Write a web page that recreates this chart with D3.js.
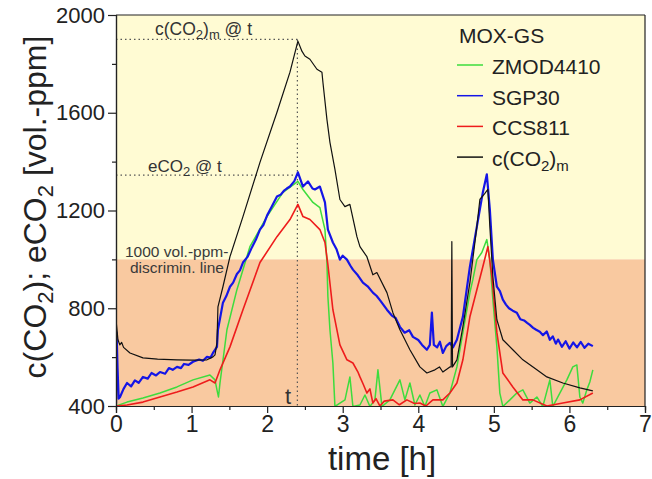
<!DOCTYPE html>
<html><head><meta charset="utf-8">
<script src="https://cdn.jsdelivr.net/npm/d3@7"></script>
<style>body{margin:0;background:#fff;} text{font-family:"Liberation Sans",Arial,sans-serif;}</style>
</head><body><svg id="c" width="652" height="479"></svg>
<script>
const xTicks=[0,1,2,3,4,5,6,7];
const xMinor=[0.5,1.5,2.5,3.5,4.5,5.5,6.5];
const yTicks=[400,800,1200,1600,2000];
const yMinor=[600,1000,1400,1800];
const threshold=1000;
const tMark=2.4, cmAtT=1900, eAtT=1345;

// c(CO2)m (black)
const tM=[0,0.026,0.05,0.075,0.1,0.185,0.357,0.55,0.807,1.0,1.204,1.283,1.31,1.336,1.349,1.415,1.508,1.68,1.905,2.13,2.302,2.407,2.46,2.5,2.566,2.659,2.725,2.738,2.791,2.831,2.897,2.963,3.029,3.095,3.188,3.228,3.32,3.399,3.452,3.585,3.664,3.757,3.889,4.021,4.114,4.22,4.28,4.325,4.418,4.435,4.444,4.453,4.511,4.59,4.683,4.775,4.815,4.881,4.921,4.947,4.987,5.04,5.119,5.251,5.384,5.569,5.701,5.913,6.138,6.31];
const vM=[753,671,650,660,640,617,597,592,589,588,589,601,609,658,806,888,1011,1175,1397,1602,1766,1893,1852,1832,1819,1778,1766,1725,1573,1479,1368,1245,1216,1225,1093,1052,1011,937,946,864,782,712,630,560,535,548,560,539,560,560,1073,560,589,724,905,1134,1245,1270,1286,1134,929,753,671,630,589,548,519,494,474,462];

// SGP30 (blue)
const tS=[0,0.008,0.02,0.035,0.053,0.1,0.146,0.2,0.25,0.3,0.357,0.42,0.47,0.53,0.582,0.65,0.7,0.75,0.807,0.86,0.9,0.96,1.019,1.1,1.15,1.204,1.25,1.283,1.336,1.349,1.415,1.46,1.508,1.55,1.6,1.64,1.68,1.74,1.8,1.85,1.905,1.95,2.0,2.06,2.13,2.18,2.22,2.26,2.302,2.36,2.407,2.474,2.54,2.6,2.632,2.698,2.765,2.804,2.87,2.92,2.963,3.0,3.056,3.1,3.135,3.2,3.267,3.33,3.399,3.45,3.5,3.585,3.65,3.7,3.757,3.82,3.88,3.929,4.0,4.05,4.114,4.153,4.18,4.206,4.25,4.286,4.325,4.37,4.418,4.46,4.511,4.59,4.683,4.775,4.854,4.907,4.947,4.987,5.04,5.08,5.119,5.16,5.2,5.25,5.304,5.35,5.4,5.44,5.476,5.52,5.56,5.608,5.65,5.7,5.741,5.78,5.82,5.85,5.9,5.95,6.0,6.05,6.1,6.15,6.2,6.25,6.31];
const vS=[410,700,560,430,437,470,494,480,505,495,519,512,535,525,539,532,555,548,560,555,572,568,581,590,585,601,598,617,642,712,823,850,888,905,940,955,987,1010,1050,1080,1122,1140,1180,1215,1257,1265,1280,1290,1298,1320,1356,1298,1319,1290,1286,1298,1233,1122,1069,1040,999,1015,999,975,958,935,905,890,864,850,830,794,770,760,724,700,710,683,670,650,630,650,782,650,640,663,617,645,658,640,671,765,970,1134,1274,1348,1204,999,888,870,835,815,800,790,782,755,750,740,732,720,712,704,690,705,671,685,655,672,642,665,635,660,640,662,638,655,645];

// ZMOD4410 (green)
const tZ=[0,0.146,0.357,0.582,0.807,1.019,1.243,1.31,1.336,1.356,1.376,1.468,1.6,1.772,1.997,2.209,2.407,2.474,2.606,2.698,2.765,2.791,2.804,2.831,2.87,2.897,2.963,3.03,3.095,3.135,3.228,3.294,3.36,3.426,3.466,3.519,3.624,3.757,3.823,3.889,3.955,4.021,4.087,4.153,4.246,4.325,4.418,4.511,4.59,4.683,4.722,4.775,4.841,4.907,4.947,4.987,5.04,5.079,5.119,5.212,5.304,5.384,5.476,5.569,5.648,5.741,5.78,5.873,5.966,6.045,6.098,6.138,6.177,6.23,6.27,6.31];
const vZ=[400,416,433,453,478,507,527,507,466,437,494,712,876,1052,1175,1274,1319,1286,1233,1212,1122,987,847,712,576,398,412,425,519,398,404,445,398,425,548,398,425,507,425,494,404,445,398,453,466,398,453,560,700,864,917,999,1028,1081,999,835,642,453,398,425,453,466,412,437,398,507,398,453,507,560,568,437,412,466,498,548];

// CCS811 (red)
const tC=[0,0.146,0.357,0.582,0.807,1.019,1.243,1.31,1.376,1.508,1.68,1.905,2.13,2.302,2.407,2.474,2.566,2.698,2.765,2.804,2.87,2.963,3.056,3.135,3.2,3.228,3.27,3.32,3.36,3.399,3.44,3.492,3.55,3.664,3.75,3.849,3.95,4.021,4.1,4.193,4.325,4.418,4.511,4.59,4.683,4.775,4.854,4.921,4.974,5.04,5.119,5.251,5.384,5.516,5.701,5.913,6.138,6.31];
const vC=[400,404,416,437,457,478,507,494,548,642,794,987,1093,1163,1225,1175,1163,1122,1069,978,794,650,589,576,540,519,490,453,470,412,430,400,420,425,405,425,410,412,400,425,425,453,494,589,765,876,970,1052,929,700,535,478,425,425,400,412,425,453];

const svg=d3.select("#c");
const x=d3.scaleLinear().domain([0,7]).range([116,645]);
const y=d3.scaleLinear().domain([400,2000]).range([406,15]);

svg.append("defs").append("clipPath").attr("id","clip").append("rect")
  .attr("x",x(0)).attr("y",y(2000)).attr("width",x(7)-x(0)).attr("height",y(400)-y(2000));

// background bands
svg.append("rect").attr("x",x(0)).attr("y",y(2000)).attr("width",x(7)-x(0)).attr("height",y(threshold)-y(2000)).attr("fill","#fffbd3");
svg.append("rect").attr("x",x(0)).attr("y",y(threshold)).attr("width",x(7)-x(0)).attr("height",y(400)-y(threshold)).attr("fill","#f9c9a0");

// dotted reference lines
const dot=svg.append("g").attr("stroke","#555").attr("stroke-width",1.2).attr("stroke-dasharray","1.5,3");
dot.append("line").attr("x1",x(0)).attr("x2",x(tMark)).attr("y1",y(cmAtT)).attr("y2",y(cmAtT));
dot.append("line").attr("x1",x(0)).attr("x2",x(tMark)).attr("y1",y(eAtT)).attr("y2",y(eAtT));
dot.append("line").attr("x1",x(tMark)).attr("x2",x(tMark)).attr("y1",y(cmAtT)).attr("y2",y(400));

// series
const plot=svg.append("g").attr("clip-path","url(#clip)");
function draw(ts,vs,color,w){
  const pts=ts.map((t,i)=>[t,vs[i]]);
  plot.append("path").datum(pts).attr("fill","none").attr("stroke",color).attr("stroke-width",w)
    .attr("stroke-linejoin","round").attr("d",d3.line().x(d=>x(d[0])).y(d=>y(d[1])));
}
draw(tZ,vZ,"#3ddc3d",1.5);
draw(tC,vC,"#ee1c1c",1.6);
draw(tS,vS,"#1515e6",2.2);
draw(tM,vM,"#111",1.2);

// frame
svg.append("line").attr("x1",x(0)).attr("x2",x(7)).attr("y1",y(2000)).attr("y2",y(2000)).attr("stroke","#222").attr("stroke-width",1.2);
svg.append("line").attr("x1",x(7)).attr("x2",x(7)).attr("y1",y(2000)).attr("y2",y(400)).attr("stroke","#222").attr("stroke-width",1.2);

// axes
svg.append("g").attr("class","xa").attr("transform",`translate(0,${y(400)})`)
  .call(d3.axisBottom(x).tickValues(xTicks).tickSize(7).tickPadding(3).tickFormat(d3.format("d")));
svg.append("g").attr("transform",`translate(0,${y(400)})`)
  .call(d3.axisBottom(x).tickValues(xMinor).tickSize(4).tickFormat(""));
svg.append("g").attr("class","ya").attr("transform",`translate(${x(0)},0)`)
  .call(d3.axisLeft(y).tickValues(yTicks).tickSize(8).tickPadding(3).tickFormat(d3.format("d")));
svg.append("g").attr("transform",`translate(${x(0)},0)`)
  .call(d3.axisLeft(y).tickValues(yMinor).tickSize(4).tickFormat(""));
svg.selectAll(".domain,.tick line").attr("stroke","#222").attr("stroke-width",1.2);
svg.selectAll(".tick text").attr("fill","#222").attr("font-family","Liberation Sans, Arial, sans-serif");
svg.selectAll(".ya .tick text").attr("font-size",22);
svg.selectAll(".xa .tick text").attr("font-size",23);

// axis titles
const yl=svg.append("text").attr("transform","translate(46,207) rotate(-90)").attr("text-anchor","middle")
  .attr("font-size",32).attr("fill","#222");
yl.append("tspan").text("c(CO");
yl.append("tspan").attr("font-size",22).attr("dy",7).text("2");
yl.append("tspan").attr("dy",-7).text("); eCO");
yl.append("tspan").attr("font-size",22).attr("dy",7).text("2");
yl.append("tspan").attr("dy",-7).text(" [vol.-ppm]");

svg.append("text").attr("x",382).attr("y",470).attr("text-anchor","middle").attr("font-size",33).attr("fill","#222").text("time [h]");

// annotations
const a1=svg.append("text").attr("x",155).attr("y",35).attr("font-size",17.5).attr("fill","#333");
a1.append("tspan").text("c(CO");
a1.append("tspan").attr("font-size",13).attr("dy",4).text("2");
a1.append("tspan").attr("dy",-4).text(")");
a1.append("tspan").attr("font-size",13).attr("dy",4).text("m");
a1.append("tspan").attr("dy",-4).text(" @ t");
const a2=svg.append("text").attr("x",148).attr("y",172).attr("font-size",17).attr("fill","#333");
a2.append("tspan").text("eCO");
a2.append("tspan").attr("font-size",13).attr("dy",4).text("2");
a2.append("tspan").attr("dy",-4).text(" @ t");
svg.append("text").attr("x",285).attr("y",404).attr("font-size",22).attr("fill","#333").text("t");
svg.append("text").attr("x",125).attr("y",257).attr("font-size",15.5).attr("fill","#3a3a3a").text("1000 vol.-ppm-");
svg.append("text").attr("x",130).attr("y",273).attr("font-size",15.5).attr("fill","#3a3a3a").text("discrimin. line");

// legend
const legendNames=["ZMOD4410","SGP30","CCS811","c(CO2)m"];
const legendColors=["#3ddc3d","#1515e6","#ee1c1c","#111"];
svg.append("text").attr("x",459).attr("y",43).attr("font-size",21).attr("fill","#222").text("MOX-GS");
legendNames.forEach((n,i)=>{
  const ly=65+i*30.7;
  svg.append("line").attr("x1",457).attr("x2",483).attr("y1",ly).attr("y2",ly).attr("stroke",legendColors[i]).attr("stroke-width",1.5);
  const t=svg.append("text").attr("x",492).attr("y",ly+9).attr("font-size",21).attr("fill","#222");
  if(n==="c(CO2)m"){
    t.append("tspan").text("c(CO");
    t.append("tspan").attr("font-size",15).attr("dy",5).text("2");
    t.append("tspan").attr("dy",-5).text(")");
    t.append("tspan").attr("font-size",15).attr("dy",5).text("m");
  } else t.text(n);
});
</script></body></html>
